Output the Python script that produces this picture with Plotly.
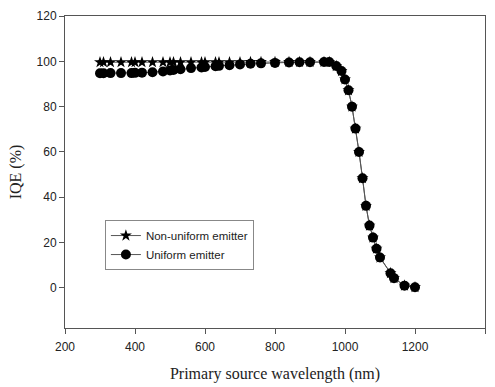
import plotly.graph_objects as go

wavelength = [300, 310, 330, 360, 390, 400, 420, 450, 480, 500, 510, 530, 560, 590, 600,
              630, 640, 670, 700, 730, 760, 800, 840, 870, 900, 940, 955, 975, 990, 1000,
              1010, 1020, 1030, 1040, 1050, 1060, 1070, 1080, 1090, 1100, 1130, 1140, 1170, 1200]

uniform = [94.7, 94.7, 94.8, 94.8, 94.8, 94.9, 95.0, 95.2, 95.5, 96.0, 96.2, 96.5, 97.0, 97.3, 97.5,
           97.8, 98.0, 98.3, 98.6, 98.9, 99.1, 99.3, 99.5, 99.6, 99.6, 99.7, 99.7, 97.9, 95.7, 92.0,
           87.2, 80.0, 70.3, 60.0, 48.4, 36.2, 27.5, 22.2, 17.3, 13.4, 6.5, 4.3, 1.0, 0.3]

non_uniform = [99.6, 99.6, 99.6, 99.6, 99.6, 99.6, 99.6, 99.6, 99.6, 99.6, 99.6, 99.6, 99.6, 99.6, 99.6,
               99.6, 99.6, 99.6, 99.6, 99.7, 99.7, 99.7, 99.7, 99.7, 99.7, 99.7, 99.7, 97.9, 95.7, 92.0,
               87.2, 80.0, 70.3, 60.0, 48.4, 36.2, 27.5, 22.2, 17.3, 13.4, 6.5, 4.3, 1.0, 0.3]

x_ticks = [200, 400, 600, 800, 1000, 1200, 1400]
y_ticks = [0, 20, 40, 60, 80, 100, 120]

fig = go.Figure()
fig.add_trace(go.Scatter(
    x=wavelength, y=non_uniform, mode="lines+markers", name="Non-uniform emitter",
    line=dict(color="#555555", width=1),
    marker=dict(symbol="star", size=9, color="black"),
))
fig.add_trace(go.Scatter(
    x=wavelength, y=uniform, mode="lines+markers", name="Uniform emitter",
    line=dict(color="#555555", width=1),
    marker=dict(symbol="circle", size=10, color="black"),
))

tick_font = dict(family="Liberation Sans, Arial, sans-serif", size=12, color="#222222")
title_font = dict(family="Liberation Serif, Times New Roman, serif", size=16, color="#222222")

axis_common = dict(
    showgrid=False, zeroline=False, showline=True, linecolor="#555555", linewidth=1,
    mirror=True, ticks="outside", ticklen=5, tickcolor="#555555",
    tickfont=tick_font, automargin=False,
)

fig.update_layout(
    width=495, height=387,
    margin=dict(l=65, r=10, t=16, b=59),
    paper_bgcolor="white", plot_bgcolor="white",
    showlegend=True,
    legend=dict(
        x=0.095, y=0.346, xanchor="left", yanchor="top",
        bordercolor="#888888", borderwidth=1, bgcolor="white",
        font=dict(family="Liberation Sans, Arial, sans-serif", size=11.5, color="#222222"),
        tracegroupgap=0, itemwidth=30,
    ),
    xaxis=dict(
        range=[200, 1400], tickvals=x_ticks, ticklabelstandoff=3,
        title=dict(text="Primary source wavelength (nm)", standoff=14, font=title_font),
        **axis_common,
    ),
    yaxis=dict(
        range=[-17.7, 120], tickvals=y_ticks,
        title=dict(text="IQE (%)", standoff=10, font=title_font),
        **axis_common,
    ),
)

fig.write_html("out.html")
